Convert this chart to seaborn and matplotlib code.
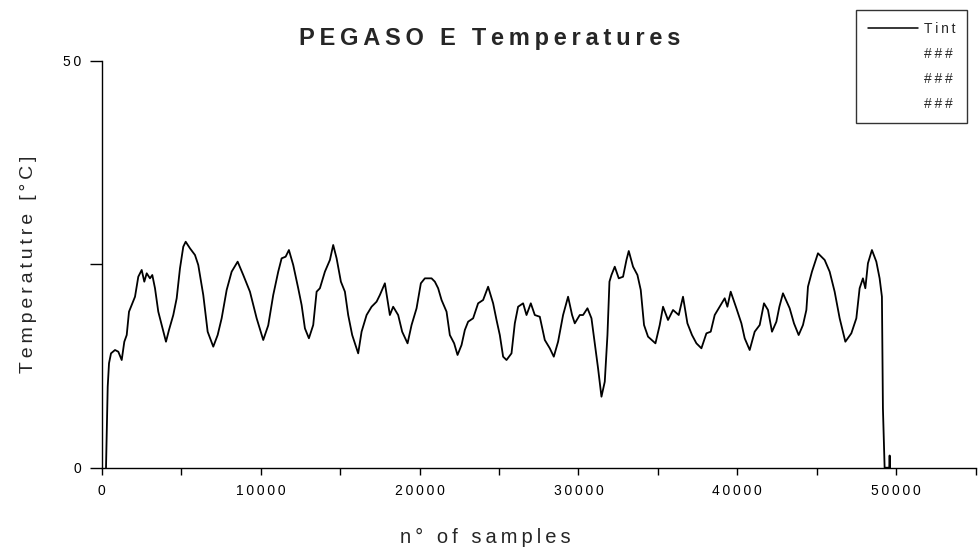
import matplotlib
matplotlib.use('Agg')
import matplotlib.pyplot as plt
from matplotlib.lines import Line2D
from matplotlib.ticker import FixedLocator, FuncFormatter
import seaborn as sns
import pandas as pd

# =========================================
# Dati (Tint)
# =========================================
samples = [270, 352, 377, 459, 585, 837, 1044, 1258, 1422, 1573, 1717, 1887, 2095, 2302,
           2516, 2680, 2831, 3038, 3183, 3353, 3560, 3774, 4044, 4233, 4504, 4718, 4925,
           5133, 5284, 5554, 5869, 6076, 6391, 6667, 7020, 7296, 7548, 7863, 8177, 8554,
           8907, 9328, 9750, 10165, 10479, 10794, 11108, 11322, 11574, 11781, 12052, 12366,
           12580, 12788, 13039, 13310, 13524, 13731, 14046, 14361, 14568, 14782, 15052,
           15304, 15511, 15763, 16140, 16354, 16669, 16983, 17298, 17505, 17820, 18134,
           18342, 18656, 18908, 19247, 19499, 19814, 20084, 20336, 20757, 20965, 21172,
           21386, 21701, 21908, 22179, 22392, 22644, 22852, 23059, 23374, 23688, 24003,
           24317, 24632, 24846, 25053, 25261, 25475, 25789, 25997, 26204, 26519, 26733,
           27003, 27255, 27569, 27884, 28198, 28450, 28720, 29035, 29349, 29601, 29771,
           30085, 30293, 30569, 30821, 30985, 31236, 31450, 31658, 31827, 31953, 32079,
           32287, 32539, 32809, 33023, 33168, 33438, 33714, 33922, 34129, 34381, 34847,
           35117, 35325, 35639, 35954, 36313, 36582, 36859, 37148, 37426, 37740, 38055,
           38325, 38577, 38891, 39206, 39375, 39583, 39942, 40256, 40464, 40778, 41093,
           41408, 41678, 41930, 42182, 42458, 42647, 42873, 43294, 43565, 43860, 44131,
           44345, 44446, 44697, 44867, 45075, 45496, 45811, 46125, 46440, 46799, 47175,
           47490, 47697, 47905, 48056, 48220, 48471, 48748, 48955, 49100, 49163, 49270,
           49560, 49585, 49610]
tint = [0, 7.3, 9.96, 12.84, 14.06, 14.47, 14.26, 13.24, 15.49, 16.31, 19.18, 20.0, 21.02, 23.48,
        24.31, 22.87, 23.9, 23.28, 23.69, 22.06, 19.18, 17.54, 15.49, 16.93, 18.77, 20.83, 24.51,
        27.17, 27.78, 26.97, 26.15, 24.92, 21.23, 16.72, 14.88, 16.31, 18.37, 21.85, 24.10, 25.33,
        23.69, 21.64, 18.37, 15.70, 17.5, 21.23, 24.10, 25.74, 25.94, 26.76, 24.92, 22.06,
        20.0, 17.13, 15.91, 17.54, 21.64, 22.06, 24.10, 25.54, 27.38, 25.74, 22.87,
        21.64, 18.77, 16.31, 14.06, 16.72, 18.77, 19.79, 20.41, 21.23, 22.67, 18.77,
        19.79, 18.77, 16.72, 15.29, 17.54, 19.6, 22.67, 23.28, 23.28, 22.87, 22.06,
        20.62, 19.18, 16.31, 15.29, 13.86, 15.08, 16.93, 17.95, 18.37, 20.21, 20.62,
        22.25, 20.21, 18.16, 16.31, 13.65, 13.24, 14.06, 17.75, 19.79, 20.21, 18.77,
        20.21, 18.77, 18.56, 15.70, 14.68, 13.65, 15.49, 18.77, 21.02, 18.77, 17.75,
        18.77, 18.77, 19.6, 18.37, 15.91, 12.22, 8.73, 10.57, 16.31, 22.87, 23.69,
        24.71, 23.28, 23.48, 25.54, 26.64, 24.71, 23.69, 21.85, 17.54, 16.11, 15.29,
        17.54, 19.79, 18.16, 19.39, 18.77, 21.02, 17.75, 16.31, 15.29, 14.68, 16.52,
        16.72, 18.77, 19.79, 20.83, 19.79, 21.64, 19.6, 17.75, 15.91, 14.47, 16.72,
        17.54, 20.21, 19.39, 16.72, 17.95, 19.79, 21.44, 19.6, 17.75, 16.31, 17.54,
        19.39, 22.25, 24.10, 25.13, 26.36, 25.54, 24.10, 21.64, 18.37, 15.49, 16.52,
        18.37, 22.06, 23.28, 22.06, 25.13, 26.76, 25.33, 23.28, 21.02, 7.3, 0,
        0, 1.5, 0]

legend_labels = ['Tint', '###', '###', '###']
x_ticks = [0, 10000, 20000, 30000, 40000, 50000]
x_minor = [5000, 15000, 25000, 35000, 45000, 55000]
y_ticks = [0, 25, 50]
y_labels = ['0', '', '50']

df = pd.DataFrame({'campione': samples, 'Tint': tint})

# =========================================
# Grafico
# =========================================
sns.set_style('ticks')
fam = ['Liberation Sans', 'DejaVu Sans']
plt.rcParams['font.family'] = fam


def spaced(s, sp='\u2009'):
    return sp.join(s)


fig = plt.figure(figsize=(9.79, 5.6), dpi=100)
ax = fig.add_axes([0.1039, 0.1648, 0.8927, 0.7263])

sns.lineplot(data=df, x='campione', y='Tint', ax=ax, color='black', linewidth=1.3,
             estimator=None, sort=False)

ax.set_xlim(0, 55000)
ax.set_ylim(0, 50)
sns.despine(ax=ax)
for s in ['left', 'bottom']:
    ax.spines[s].set_linewidth(1.0)
    ax.spines[s].set_color('black')

ax.xaxis.set_major_locator(FixedLocator(x_ticks))
ax.xaxis.set_minor_locator(FixedLocator(x_minor))
ax.xaxis.set_major_formatter(FuncFormatter(lambda v, p: spaced(str(int(v)))))
ax.yaxis.set_major_locator(FixedLocator(y_ticks))
ax.set_yticklabels([spaced(t) for t in y_labels])
ax.tick_params(axis='x', which='both', length=5, width=1.0, colors='black',
               labelsize=10, pad=7)
ax.tick_params(axis='y', length=8.5, width=1.0, colors='black', labelsize=10, pad=6)

ax.set_xlabel(spaced('n° of samples'), fontsize=14.5, labelpad=21)
ax.xaxis.label.set_x(0.4386)
ax.set_ylabel(spaced('Temperatutre [°C]'), fontsize=14, labelpad=19)
fig.text(0.5, 0.932, spaced('PEGASO E Temperatures'), ha='center', va='center',
         fontsize=17, fontweight='heavy')

handles = [Line2D([], [], color='black', linewidth=1.1)] + \
          [Line2D([], [], color='none') for _ in range(3)]
leg = ax.legend(handles, [spaced(l) for l in legend_labels], loc='upper left',
                bbox_to_anchor=(856 / 979, 1 - 10 / 560), bbox_transform=fig.transFigure,
                frameon=True, fancybox=False, edgecolor='black', fontsize=10,
                handlelength=3.6, handletextpad=0.45, labelspacing=0.8,
                borderpad=0.85, borderaxespad=0)
leg.get_frame().set_linewidth(1.0)

fig.savefig('out.png', dpi=100)
